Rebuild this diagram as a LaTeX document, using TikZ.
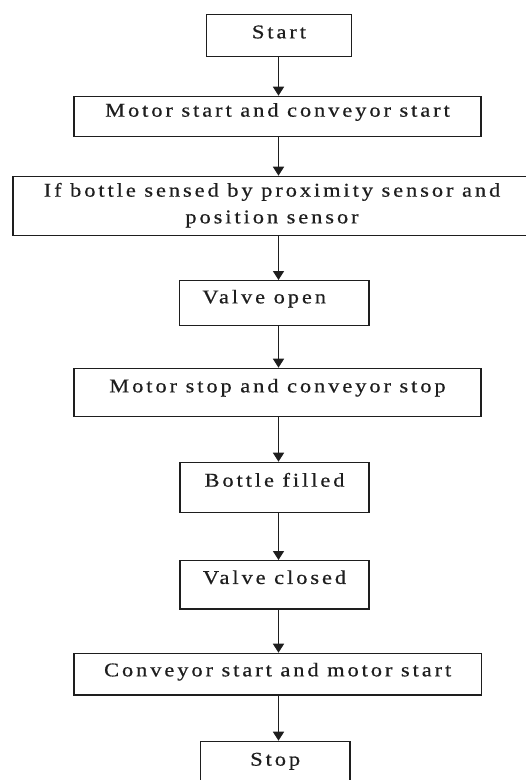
\documentclass[tikz,border=0pt]{standalone}
\usepackage{fontspec}
\setmainfont{Liberation Serif}[LetterSpace=15,FakeStretch=1.15,FakeBold=0.6]
\usetikzlibrary{arrows.meta}
\definecolor{ink}{HTML}{1E1E1E}
\begin{document}
\begin{tikzpicture}[x=1pt,y=-1pt,
  box/.style={draw=ink, line width=1.3pt, inner xsep=0pt, inner ysep=0pt,
    anchor=north, align=center, text=ink, font=\fontsize{19.5}{26.7}\selectfont},
  arr/.style={draw=ink, line width=1.6pt, -{Triangle[width=11pt,length=9pt]}}]
\useasboundingbox (0,0) rectangle (526,780);
\coordinate (ax) at (278.5,0);
\node[box, minimum width=145pt, minimum height=41.7pt, text height=23.7pt, text depth=18pt] (n1) at (279,14) {Start};
\node[box, minimum width=407pt, minimum height=40pt, text height=20.3pt, text depth=19.7pt] (n2) at (277.5,95.7) {Motor start and conveyor start};
\node[box, minimum width=518pt, minimum height=59.3pt, text height=47pt, text depth=12.3pt] (n3) at (272,175.7) {If bottle sensed by proximity sensor and\\position sensor};
\node[box, minimum width=189.5pt, minimum height=44.5pt, text height=22.7pt, text depth=21.8pt] (n4) at (274.2,280) {Valve open\hspace*{20pt}};
\node[box, minimum width=407pt, minimum height=48.3pt, text height=24pt, text depth=24.3pt] (n5) at (277.5,367.7) {Motor stop and conveyor stop};
\node[box, minimum width=189pt, minimum height=50pt, text height=24.3pt, text depth=25.7pt] (n6) at (274.5,461.7) {Bottle filled};
\node[box, minimum width=189pt, minimum height=48.3pt, text height=23.3pt, text depth=25pt] (n7) at (274.5,560) {Valve closed};
\node[box, minimum width=407.3pt, minimum height=41.6pt, text height=23pt, text depth=18.6pt] (n8) at (277.7,652.7) {Conveyor start and motor start};
\node[box, minimum width=149.5pt, minimum height=45pt, text height=24.3pt, text depth=20.7pt] (n9) at (275.2,740.7) {Stop};
\foreach \a/\b in {n1/n2,n2/n3,n3/n4,n4/n5,n5/n6,n6/n7,n7/n8,n8/n9}
  \draw[arr] (\a.south -| ax) -- (\b.north -| ax);
\end{tikzpicture}
\end{document}
